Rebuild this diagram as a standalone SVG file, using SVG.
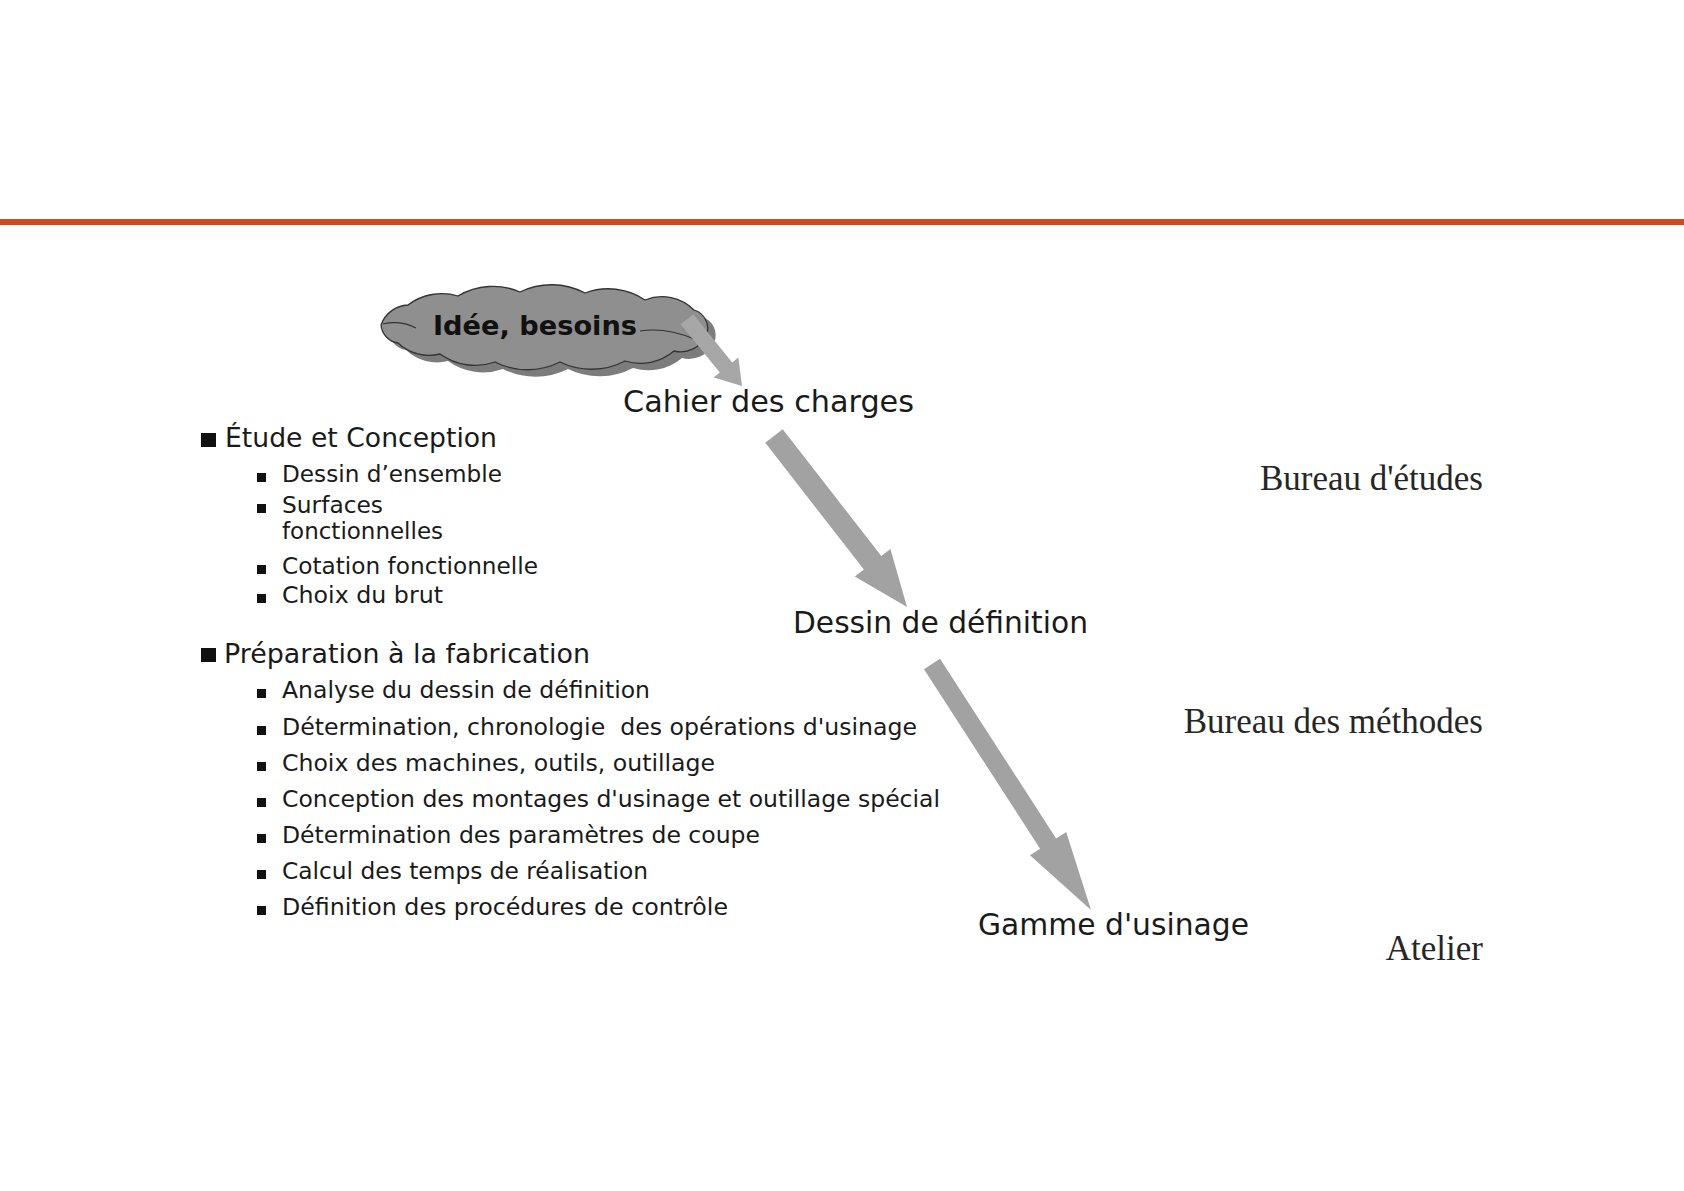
<svg xmlns="http://www.w3.org/2000/svg" width="1684" height="1191" viewBox="0 0 1684 1191">
<style>
.sans{font-family:"DejaVu Sans","Verdana",sans-serif;fill:#1a1a1a}
.node{font-size:30px}
.head{font-size:26.5px}
.sub{font-size:23.5px}
.serif{font-family:"Liberation Serif","Times New Roman",serif;font-size:35px;fill:#262626;text-anchor:end}
.b1{fill:#111}
.b2{fill:#111}
.arrow{fill:#a2a2a2;stroke:none}
</style>
<defs>
<path id="cloudShape" d="M381,325 A30,30 0 0 1 408,305 A56,56 0 0 1 458,296 A68,68 0 0 1 520,292 A72,72 0 0 1 585,293 A66,66 0 0 1 645,300 A45,45 0 0 1 694,310 A19,19 0 0 1 706,336 A28,28 0 0 1 674,351 A52,52 0 0 1 625,361 A72,72 0 0 1 560,362 A72,72 0 0 1 495,362 A60,60 0 0 1 440,354 A45,45 0 0 1 398,343 A20,20 0 0 1 381,325 Z"/>
</defs>
<rect width="1684" height="1191" fill="#ffffff"/>
<rect x="0" y="219" width="1684" height="6" fill="#d04b1c"/>

<g id="node-idee">
<use href="#cloudShape" transform="translate(8,7)" fill="#7c7c7c"/>
<use href="#cloudShape" fill="#8f8f8f" stroke="#333333" stroke-width="1.3"/>
<path d="M383,324 Q400,320 416,328" fill="none" stroke="#333333" stroke-width="1.2"/>
<path d="M640,331 Q666,327 694,339" fill="none" stroke="#333333" stroke-width="1.2"/>
<text x="433" y="335" font-family="DejaVu Sans, Verdana, sans-serif" font-weight="bold" font-size="27" fill="#111" textLength="204" lengthAdjust="spacingAndGlyphs">Idée, besoins</text>
</g>

<g id="connectors">
<polygon class="arrow" style="fill:#a7a7a7" points="693.3,314.3 732.2,362.5 738.4,357.4 742,386 713.6,377.6 719.8,372.5 680.7,324.3"/>
<polygon class="arrow" points="782.7,429.3 881.3,556.0 890.4,549.0 907,607 854.8,576.6 863.9,569.6 765.3,442.8"/>
<polygon class="arrow" points="940.0,658.8 1056.1,838.4 1066.2,831.9 1091,910 1030.0,855.3 1040.1,848.8 924.0,669.2"/>
</g>

<g id="node-cahier">
<text class="sans node" x="623" y="412" textLength="291" lengthAdjust="spacingAndGlyphs">Cahier des charges</text>
</g>
<g id="node-dessin">
<text class="sans node" x="793" y="633" textLength="295" lengthAdjust="spacingAndGlyphs">Dessin de définition</text>
</g>
<g id="node-gamme">
<text class="sans node" x="978" y="935" textLength="271" lengthAdjust="spacingAndGlyphs">Gamme d'usinage</text>
</g>

<g id="labels">
<text class="serif" x="1483" y="490">Bureau d'études</text>
<text class="serif" x="1483" y="733">Bureau des méthodes</text>
<text class="serif" x="1483" y="960">Atelier</text>
</g>

<g id="list-etude">
<rect class="b1" x="201" y="433" width="15" height="14"/>
<text class="sans head" x="225" y="447" textLength="272" lengthAdjust="spacingAndGlyphs">Étude et Conception</text>
<rect class="b2" x="257" y="473" width="9" height="9"/>
<text class="sans sub" x="282" y="482" textLength="220" lengthAdjust="spacingAndGlyphs">Dessin d’ensemble</text>
<rect class="b2" x="257" y="504" width="9" height="9"/>
<text class="sans sub" x="282" y="513" textLength="101" lengthAdjust="spacingAndGlyphs">Surfaces</text>
<text class="sans sub" x="282" y="539" textLength="161" lengthAdjust="spacingAndGlyphs">fonctionnelles</text>
<rect class="b2" x="257" y="565" width="9" height="9"/>
<text class="sans sub" x="282" y="574" textLength="256" lengthAdjust="spacingAndGlyphs">Cotation fonctionnelle</text>
<rect class="b2" x="257" y="594" width="9" height="9"/>
<text class="sans sub" x="282" y="603" textLength="161" lengthAdjust="spacingAndGlyphs">Choix du brut</text>
</g>

<g id="list-preparation">
<rect class="b1" x="201" y="648" width="15" height="14"/>
<text class="sans head" x="224" y="663" textLength="366" lengthAdjust="spacingAndGlyphs">Préparation à la fabrication</text>
<rect class="b2" x="257" y="689" width="9" height="9"/>
<text class="sans sub" x="282" y="698" textLength="368" lengthAdjust="spacingAndGlyphs">Analyse du dessin de définition</text>
<rect class="b2" x="257" y="726" width="9" height="9"/>
<text class="sans sub" x="282" y="735" textLength="635" lengthAdjust="spacingAndGlyphs" xml:space="preserve" style="white-space:pre">Détermination, chronologie  des opérations d'usinage</text>
<rect class="b2" x="257" y="762" width="9" height="9"/>
<text class="sans sub" x="282" y="771" textLength="433" lengthAdjust="spacingAndGlyphs">Choix des machines, outils, outillage</text>
<rect class="b2" x="257" y="798" width="9" height="9"/>
<text class="sans sub" x="282" y="807" textLength="658" lengthAdjust="spacingAndGlyphs">Conception des montages d'usinage et outillage spécial</text>
<rect class="b2" x="257" y="834" width="9" height="9"/>
<text class="sans sub" x="282" y="843" textLength="478" lengthAdjust="spacingAndGlyphs">Détermination des paramètres de coupe</text>
<rect class="b2" x="257" y="870" width="9" height="9"/>
<text class="sans sub" x="282" y="879" textLength="366" lengthAdjust="spacingAndGlyphs">Calcul des temps de réalisation</text>
<rect class="b2" x="257" y="906" width="9" height="9"/>
<text class="sans sub" x="282" y="915" textLength="446" lengthAdjust="spacingAndGlyphs">Définition des procédures de contrôle</text>
</g>
</svg>
